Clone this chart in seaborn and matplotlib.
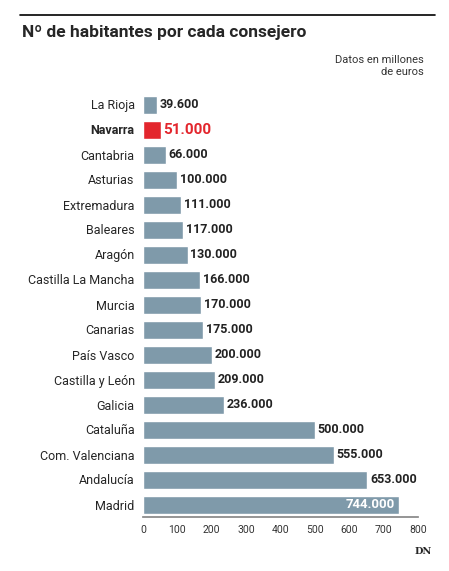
import matplotlib
matplotlib.use("Agg")
import matplotlib.pyplot as plt
import seaborn as sns
import pandas as pd

regions = ["La Rioja","Navarra","Cantabria","Asturias","Extremadura","Baleares","Aragón",
           "Castilla La Mancha","Murcia","Canarias","País Vasco","Castilla y León","Galicia",
           "Cataluña","Com. Valenciana","Andalucía","Madrid"]
values = [39.6,51,66,100,111,117,130,166,170,175,200,209,236,500,555,653,744]
labels = ["39.600","51.000","66.000","100.000","111.000","117.000","130.000","166.000","170.000",
          "175.000","200.000","209.000","236.000","500.000","555.000","653.000","744.000"]
ticks = [0,100,200,300,400,500,600,700,800]

sns.set_theme(style="white")
plt.rcParams['font.family'] = ['Roboto', 'DejaVu Sans']

df = pd.DataFrame({"region": regions, "value": values})
base = "#7f9aaa"
colors = ["#e3262d" if r == "Navarra" else base for r in regions]

fig = plt.figure(figsize=(4.49, 5.71), dpi=100)
ax = fig.add_axes([143/449, 1-517/571, 275/449, 425/571])
sns.barplot(data=df, x="value", y="region", hue="region", palette=colors, legend=False,
            ax=ax, width=0.72, saturation=1)
ax.set_xlim(0, 800)
ax.set_xticks(ticks)
ax.set_xticklabels([str(t) for t in ticks], fontsize=7.5, color="#333")
ax.set_xlabel(""); ax.set_ylabel("")
ax.tick_params(axis="y", labelsize=9, length=0, pad=6)
ax.tick_params(axis="x", length=3, color="#555", pad=3)
for lab in ax.get_yticklabels():
    if lab.get_text() == "Navarra":
        lab.set_fontweight("bold")
for s in ["top","right","left"]:
    ax.spines[s].set_visible(False)
ax.spines["bottom"].set_color("#888")
for i, (v, l) in enumerate(zip(values, labels)):
    if regions[i] == "Madrid":
        ax.text(v - 10, i, l, ha="right", va="center", color="white", fontsize=9.5, fontweight="bold")
    elif regions[i] == "Navarra":
        ax.text(v + 8, i, l, ha="left", va="center", color="#e3262d", fontsize=11, fontweight="bold")
    else:
        ax.text(v + 8, i, l, ha="left", va="center", color="#222", fontsize=9, fontweight="bold")

fig.add_artist(plt.Line2D([20/449, 435/449], [1-15/571, 1-15/571], color="black", lw=1.2))
fig.text(22/449, 1-33/571, "Nº de habitantes por cada consejero", fontsize=12.5, fontweight="bold",
         va="center", ha="left")
fig.text(424/449, 1-66/571, "Datos en millones\nde euros", fontsize=8, ha="right", va="center",
         color="#333", linespacing=1.3)
fig.text(432/449, 1-551/571, "DN", fontsize=7, fontweight="bold", ha="right", va="center",
         family="DejaVu Serif")
fig.savefig("out.png", dpi=100)
